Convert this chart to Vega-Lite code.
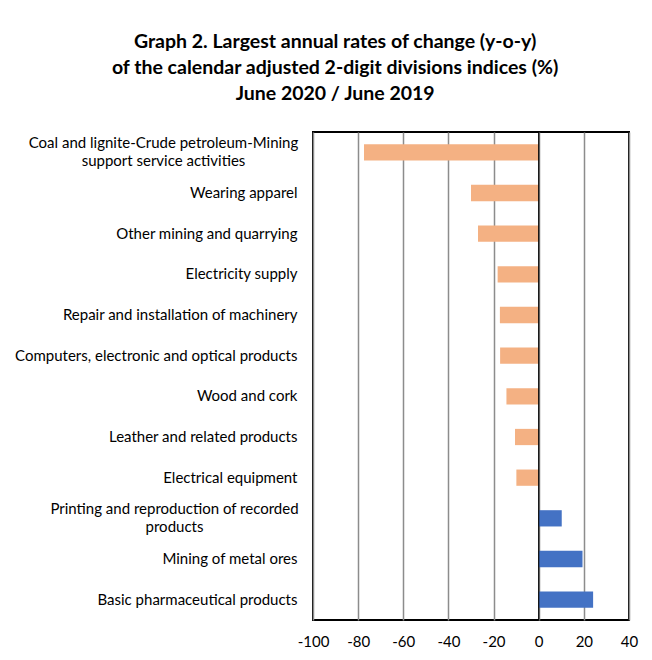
{
  "$schema": "https://vega.github.io/schema/vega-lite/v6.json",
  "width": 316,
  "height": 488,
  "autosize": {"type": "none"},
  "padding": {"left": 313, "top": 132, "right": 23, "bottom": 40},
  "background": "white",
  "title": {
    "text": ["Graph 2. Largest annual rates of change (y-o-y)", "of the calendar adjusted 2-digit divisions indices (%)", "June 2020 / June 2019"],
    "font": "Lato",
    "fontSize": 19.5,
    "fontWeight": "bold",
    "color": "black",
    "lineHeight": 26,
    "anchor": "middle",
    "frame": "bounds",
    "offset": 27,
    "dx": 9
  },
  "data": {
    "values": [
      {"division": "Coal and lignite-Crude petroleum-Mining support service activities", "change": -77.4},
      {"division": "Wearing apparel", "change": -30.0},
      {"division": "Other mining and quarrying", "change": -26.9},
      {"division": "Electricity supply", "change": -18.2},
      {"division": "Repair and installation of machinery", "change": -17.2},
      {"division": "Computers, electronic and optical products", "change": -17.1},
      {"division": "Wood and cork", "change": -14.3},
      {"division": "Leather and related products", "change": -10.5},
      {"division": "Electrical equipment", "change": -9.9},
      {"division": "Printing and reproduction of recorded products", "change": 10.2},
      {"division": "Mining of metal ores", "change": 19.4},
      {"division": "Basic pharmaceutical products", "change": 24.1}
    ]
  },
  "layer": [
    {
      "mark": {"type": "bar"},
      "encoding": {
        "y": {
          "field": "division",
          "type": "nominal",
          "sort": null,
          "scale": {"paddingInner": 0.6, "paddingOuter": 0.3},
          "axis": {
            "title": null,
            "grid": false,
            "ticks": false,
            "domain": false,
            "labelPadding": {"condition": [{"test": "indexof(datum.value, 'Coal') == 0", "value": 150}, {"test": "indexof(datum.value, 'Printing') == 0", "value": 139}], "value": 16},
            "labelAlign": {"condition": {"test": "indexof(datum.value, 'Coal') == 0 || indexof(datum.value, 'Printing') == 0", "value": "center"}, "value": "right"},
            "labelFont": "Lato",
            "labelFontSize": 15,
            "labelColor": "black",
            "labelLimit": 400,
            "labelLineHeight": 18,
            "labelOffset": {"condition": {"test": "indexof(datum.value, 'Coal') == 0 || indexof(datum.value, 'Printing') == 0", "value": -9}, "value": 0},
            "labelExpr": "datum.value == 'Coal and lignite-Crude petroleum-Mining support service activities' ? ['Coal and lignite-Crude petroleum-Mining', 'support service activities'] : datum.value == 'Printing and reproduction of recorded products' ? ['Printing and reproduction of recorded', 'products'] : datum.label"
          }
        },
        "x": {
          "field": "change",
          "type": "quantitative",
          "scale": {"domain": [-100, 40], "nice": false, "zero": false},
          "axis": {
            "title": null,
            "values": [-100, -80, -60, -40, -20, 0, 20, 40],
            "labelExpr": "toString(datum.value)",
            "grid": true,
            "gridColor": "#8c8c8c",
            "gridWidth": 1.5,
            "ticks": false,
            "domain": false,
            "labelPadding": 14,
            "labelFont": "Lato",
            "labelFontSize": 15,
            "labelColor": "black",
            "labelFlush": false
          }
        },
        "color": {
          "condition": {"test": "datum.change < 0", "value": "#F4B183"},
          "value": "#4472C4"
        }
      }
    },
    {
      "data": {"values": [{}]},
      "mark": {"type": "rule", "color": "black", "strokeWidth": 1.2},
      "encoding": {"x": {"datum": 0}}
    }
  ],
  "config": {
    "view": {"stroke": "black", "strokeWidth": 2},
    "font": "Lato"
  }
}
